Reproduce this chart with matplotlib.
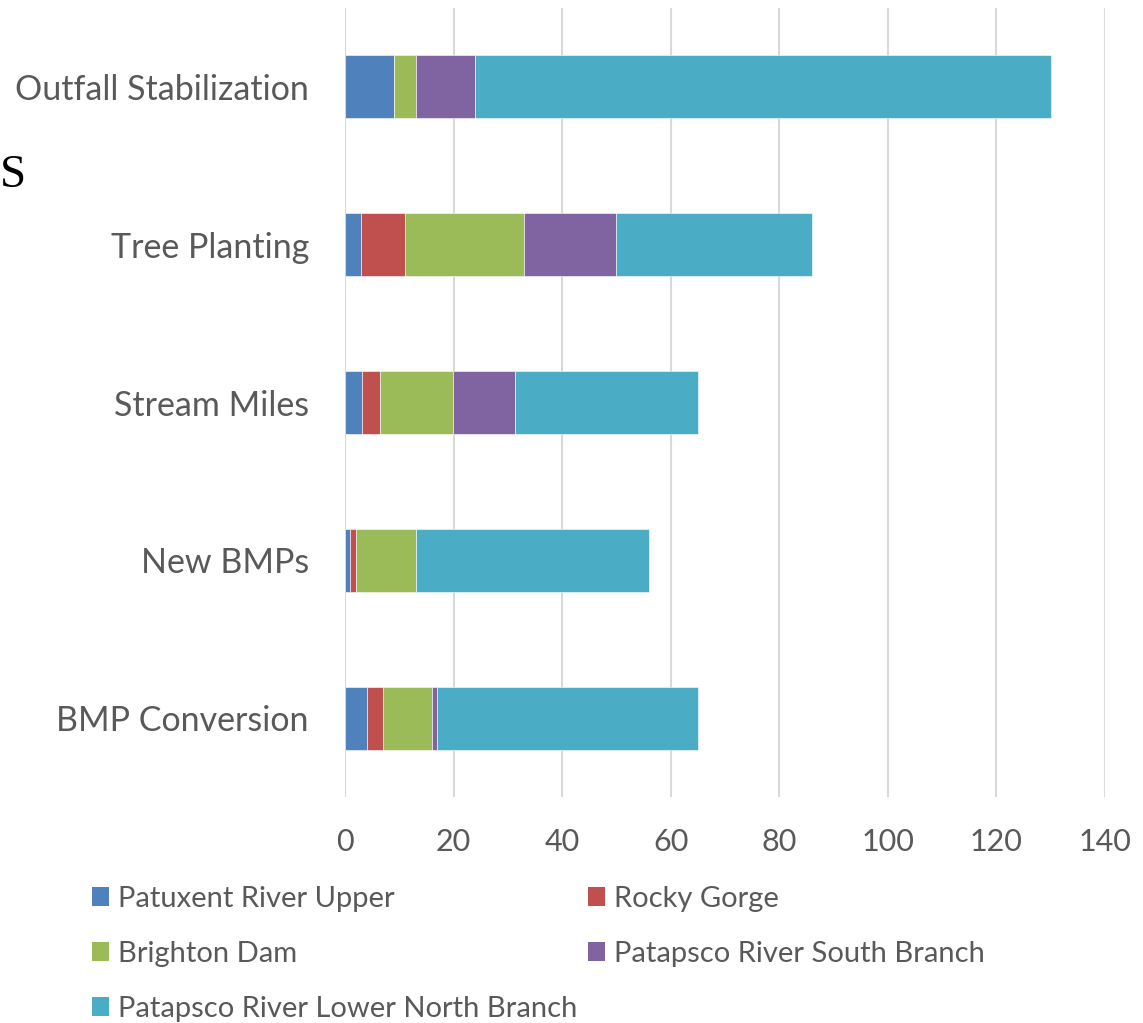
import matplotlib
matplotlib.use('Agg')
import matplotlib.pyplot as plt
from matplotlib.patches import Patch
import numpy as np

# categories bottom -> top as drawn by barh
categories = ['BMP Conversion', 'New BMPs', 'Stream Miles', 'Tree Planting', 'Outfall Stabilization']
series = ['Patuxent River Upper', 'Rocky Gorge', 'Brighton Dam',
          'Patapsco River South Branch', 'Patapsco River Lower North Branch']

patuxent_upper = [4, 1, 3.2, 3, 9]
rocky_gorge = [3, 1, 3.2, 8, 0]
brighton_dam = [9, 11, 13.5, 22, 4]
south_branch = [1, 0, 11.5, 17, 11]
lower_north = [48, 43, 33.6, 36, 106]

values = [patuxent_upper, rocky_gorge, brighton_dam, south_branch, lower_north]
colors = ['#4F81BD', '#C0504D', '#9BBB59', '#8064A2', '#4BACC6']

plt.rcParams['font.family'] = ['Lato', 'DejaVu Sans']
txt = '#595959'

fig = plt.figure(figsize=(11.43, 10.23), dpi=100)
ax = fig.add_axes([345/1143, 1-797/1023, 760/1143, 789/1023])

y = np.arange(len(categories))
left = np.zeros(len(categories))
for vals, col, name in zip(values, colors, series):
    vals = np.array(vals, dtype=float)
    ax.barh(y, vals, left=left, height=0.4, color=col, edgecolor='white', linewidth=0.4, label=name, zorder=3)
    left += vals

ax.set_xlim(0, 140)
ax.set_ylim(-0.5, len(categories) - 0.5)
ax.set_xticks(np.arange(0, 141, 20))
ax.set_yticks(y)
ax.set_yticklabels(categories)
ax.tick_params(axis='both', length=0, colors=txt)
ax.tick_params(axis='y', pad=26, labelsize=24.5)
ax.tick_params(axis='x', pad=22, labelsize=22)
ax.grid(axis='x', color='#D9D9D9', linewidth=1.5, zorder=0)
for s in ax.spines.values():
    s.set_visible(False)

# legend, row-major order across two columns
handles = [Patch(facecolor=c) for c in colors]
order = [0, 2, 4, 1, 3]
fig.legend([handles[i] for i in order], [series[i] for i in order],
           ncol=2, loc='upper left', bbox_to_anchor=(80/1143, 1-874/1023),
           frameon=False, fontsize=21, labelcolor=txt,
           handlelength=0.6, handleheight=0.6, handletextpad=0.3,
           columnspacing=0.35, labelspacing=1.0, borderaxespad=0)

# heading fragment at the left edge
fig.text(0, 1-176/1023, 'S', ha='left', va='center', fontsize=34,
         family='Liberation Serif', color='black')

fig.savefig('out.png', dpi=100)
